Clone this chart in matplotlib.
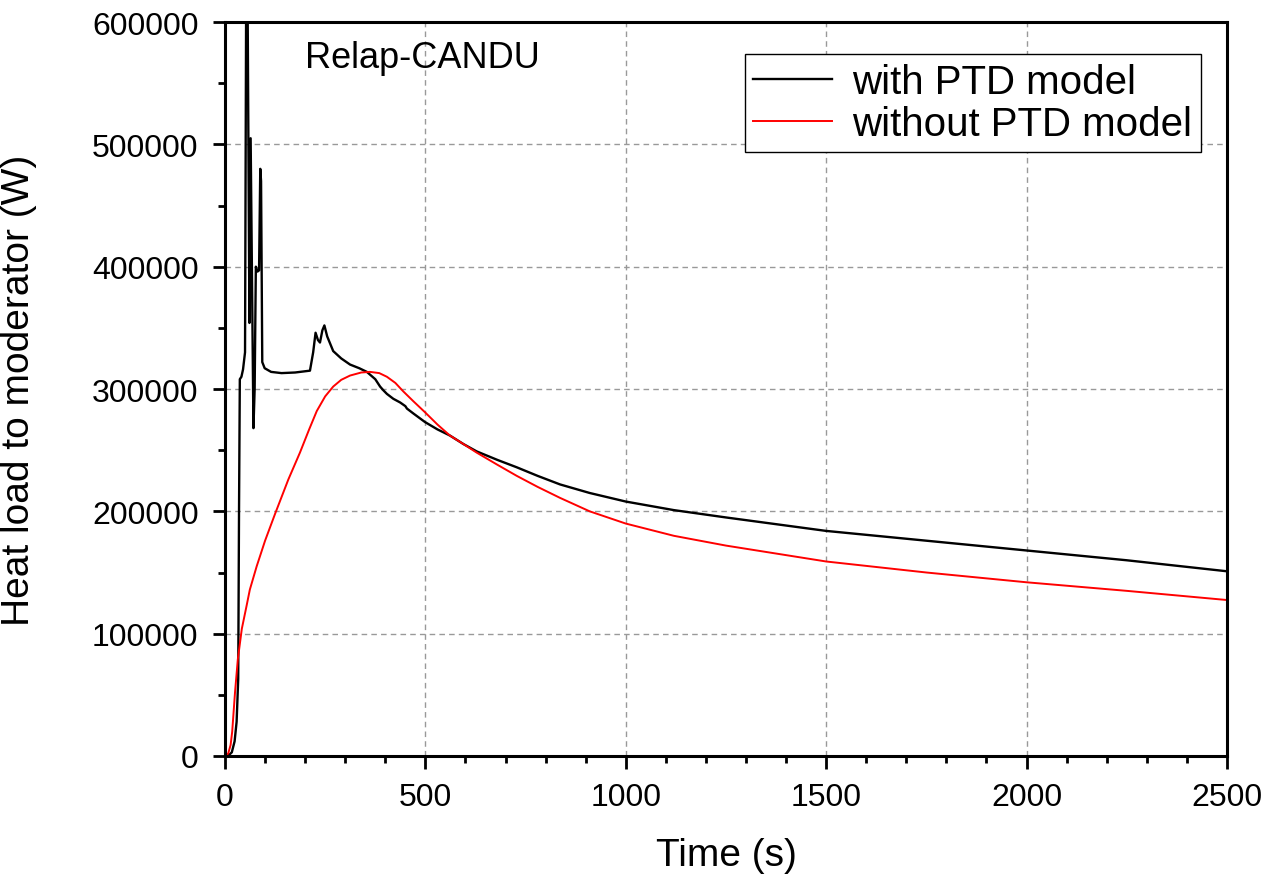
import matplotlib
matplotlib.use("Agg")
import matplotlib.pyplot as plt
from matplotlib.ticker import MultipleLocator

plt.rcParams['font.family'] = ['Liberation Sans', 'DejaVu Sans']

# with PTD model (black)
t_ptd = [0, 10, 17, 24, 29, 33, 35, 37, 41, 45, 50, 53, 56, 61, 64, 71, 74,
         77, 81, 85, 88, 90, 93, 99, 115, 141, 175, 212, 220, 226, 232, 237,
         243, 248, 255, 270, 290, 312, 335, 354, 375, 387, 395, 404, 420, 437,
         450, 454, 470, 499, 530, 561, 595, 628, 680, 728, 780, 836, 910, 1000,
         1120, 1250, 1500, 1750, 2000, 2250, 2500]
q_ptd = [0, 800, 3000, 12000, 28000, 63000, 200000, 308000, 310000, 316000,
         330000, 640000, 640000, 354000, 505000, 268000, 300000, 400000, 396000,
         397000, 480000, 470000, 322000, 317000, 314000, 313000, 313500, 315000,
         330000, 346000, 340000, 338000, 348000, 352000, 343000, 331000, 325000,
         320000, 317000, 314000, 308000, 302000, 299000, 296000, 292000, 289000,
         286000, 284000, 280000, 273000, 267000, 262000, 255000, 249000, 242000,
         236000, 229000, 222000, 215000, 208000, 201000, 195000, 184000, 176000,
         168000, 160000, 151000]

# without PTD model (red)
t_nom = [0, 8, 14, 18, 25, 32, 42, 54, 62, 79, 100, 125, 158, 187, 210, 229,
         250, 270, 290, 312, 340, 362, 385, 404, 425, 445, 470, 499, 530, 561,
         595, 628, 680, 728, 780, 836, 910, 1000, 1120, 1250, 1500, 1750, 2000,
         2250, 2500]
q_nom = [0, 2000, 9000, 20000, 52000, 79000, 104000, 123000, 136000, 155000,
         176000, 198000, 226000, 248000, 267000, 282000, 294000, 302000, 307500,
         311000, 313500, 314000, 313000, 310000, 305000, 298000, 290000, 281000,
         271000, 262000, 255000, 248000, 238000, 229000, 220000, 211000, 200000,
         190000, 180000, 172000, 159000, 150000, 142000, 135000, 127500]

x_ticks = [0, 500, 1000, 1500, 2000, 2500]
y_ticks = [0, 100000, 200000, 300000, 400000, 500000, 600000]
x_labels = [str(v) for v in x_ticks]
y_labels = [str(v) for v in y_ticks]

fig = plt.figure(figsize=(12.64, 8.79), dpi=100)
ax = fig.add_axes([0.178, 0.1388, 0.7927, 0.835])

ax.plot(t_ptd, q_ptd, color='black', lw=1.7, label='with PTD model')
ax.plot(t_nom, q_nom, color='red', lw=1.4, label='without PTD model')

ax.set_xlim(0, 2500)
ax.set_ylim(0, 600000)
ax.set_xticks(x_ticks)
ax.set_xticklabels(x_labels)
ax.set_yticks(y_ticks)
ax.set_yticklabels(y_labels)
ax.xaxis.set_minor_locator(MultipleLocator(100))
ax.yaxis.set_minor_locator(MultipleLocator(50000))

ax.tick_params(which='major', direction='out', length=9, width=2,
               labelsize=23, pad=10, top=False, right=False)
ax.tick_params(which='minor', direction='out', length=5, width=2,
               top=False, right=False)
for s in ax.spines.values():
    s.set_linewidth(2.2)

ax.grid(True, which='major', color='#999999', linestyle=(0, (4, 3)), lw=1)

ax.set_xlabel('Time (s)', fontsize=28)
ax.set_ylabel('Heat load to moderator (W)', fontsize=28)
ax.xaxis.set_label_coords(0.5, -0.11)
ax.yaxis.set_label_coords(-0.188, 0.5)

ax.text(0.08, 0.939, 'Relap-CANDU', transform=ax.transAxes, fontsize=26,
        va='baseline', ha='left')

leg = ax.legend(loc='upper right', bbox_to_anchor=(0.974, 0.956),
                borderaxespad=0, fontsize=29, fancybox=False, framealpha=1,
                edgecolor='black', handlelength=1.95, handletextpad=0.5,
                borderpad=0.22, labelspacing=0.1)
leg.get_frame().set_linewidth(1.0)

fig.savefig('out.png', dpi=100)
